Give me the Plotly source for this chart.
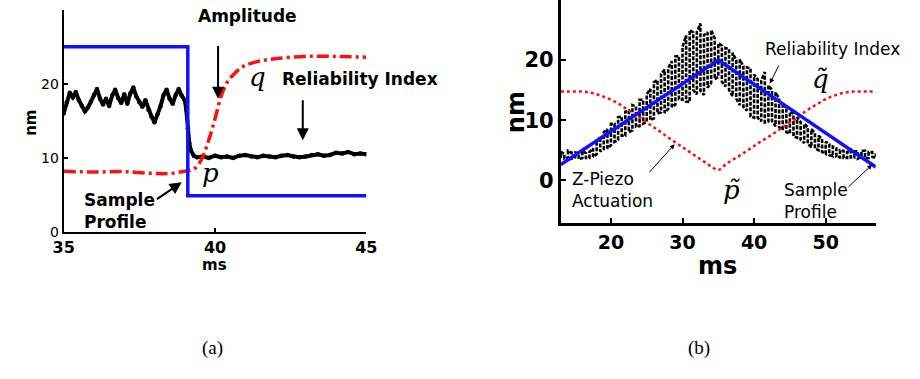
import plotly.graph_objects as go

# ---------------- Panel (a) data ----------------
a_profile_x = [35, 39.1, 39.1, 45]
a_profile_y = [25, 25, 4.9, 4.9]

a_amp_x = [35, 36, 37, 38, 38.5, 39.0, 39.3, 39.5, 39.6, 39.8, 40.0, 40.2, 40.4, 40.6,
           40.8, 41.0, 41.4, 42.0, 43.0, 44.0, 45.0]
a_amp_y = [8.2, 8.1, 8.15, 7.9, 7.9, 8.2, 8.5, 9.4, 10.2, 12.5, 15.3, 18.3, 20.2, 21.2,
           22.0, 22.5, 23.0, 23.4, 23.7, 23.7, 23.6]

a_ri_x = [35.0, 35.1, 35.2, 35.3, 35.4, 35.5, 35.6, 35.7, 35.8, 35.9,
          36.0, 36.1, 36.2, 36.3, 36.4, 36.5, 36.6, 36.7, 36.8, 36.9,
          37.0, 37.1, 37.2, 37.3, 37.4, 37.5, 37.6, 37.7, 37.8, 37.9,
          38.0, 38.1, 38.2, 38.3, 38.4, 38.5, 38.6, 38.7, 38.8, 38.9,
          39.0, 39.05, 39.1, 39.15, 39.2, 39.3,
          39.4, 39.6, 39.8, 40.0, 40.2, 40.4, 40.6, 40.8, 41.0, 41.2,
          41.4, 41.6, 41.8, 42.0, 42.2, 42.4, 42.6, 42.8, 43.0, 43.2,
          43.4, 43.6, 43.8, 44.0, 44.2, 44.4, 44.6, 44.8, 45.0]
a_ri_y = [16.0, 17.5, 18.8, 18.2, 18.9, 17.8, 17.0, 16.3, 16.8, 17.6,
          18.5, 19.3, 18.0, 17.2, 18.0, 17.0, 18.4, 19.2, 18.1, 17.4,
          18.6, 17.3, 18.7, 19.5, 18.3, 17.5, 16.9, 17.8, 16.5, 15.6,
          14.8, 15.9, 17.0, 18.5, 19.2, 18.0, 17.3, 18.5, 19.3, 18.4,
          17.8, 16.5, 14.0, 12.0, 11.0, 10.3,
          10.1, 10.2, 10.0, 10.3, 10.1, 10.2, 10.0, 10.3, 10.4, 10.2,
          10.1, 10.3, 10.2, 10.1, 10.3, 10.4, 10.2, 10.1, 10.2, 10.4,
          10.5, 10.3, 10.4, 10.7, 10.6, 10.8, 10.5, 10.6, 10.5]

a_xticks = [35, 40, 45]
a_yticks = [0, 10, 20]

# ---------------- Panel (b) data ----------------
b_profile_x = [13, 35, 57]
b_profile_y = [2.6, 20, 2.2]

b_piezo_x = [13, 14, 15, 16, 17, 18, 19, 20, 21, 22, 23, 24, 25, 26, 27, 28, 29, 30,
             31, 32, 33, 34, 35, 36, 37, 38, 39, 40, 41, 42, 43, 44, 45, 46, 47, 48,
             49, 50, 51, 52, 53, 54, 55, 56, 57]
b_piezo_y = [14.75, 14.75, 14.75, 14.75, 14.6, 14.3, 13.9, 13.4, 12.8, 12.0, 11.2, 10.4,
             9.6, 8.8, 8.0, 7.1, 6.3, 5.5, 4.7, 3.9, 3.1, 2.3, 1.7, 2.6, 3.4, 4.1, 4.9,
             5.7, 6.5, 7.2, 8.0, 8.8, 9.6, 10.4, 11.3, 12.1, 12.8, 13.5, 14.0, 14.4,
             14.65, 14.75, 14.75, 14.75, 14.75]

b_ri_x = [13.0, 13.5, 14.0, 14.5, 15.0, 15.5, 16.0, 16.5, 17.0, 17.5,
          18.0, 18.5, 19.0, 19.5, 20.0, 20.5, 21.0, 21.5, 22.0, 22.5,
          23.0, 23.5, 24.0, 24.5, 25.0, 25.5, 26.0, 26.5, 27.0, 27.5,
          28.0, 28.5, 29.0, 29.5, 30.0, 30.5, 31.0, 31.5, 32.0, 32.5,
          33.0, 33.5, 34.0, 34.5, 35.0, 35.5, 36.0, 36.5, 37.0, 37.5,
          38.0, 38.5, 39.0, 39.5, 40.0, 40.5, 41.0, 41.5, 42.0, 42.5,
          43.0, 43.5, 44.0, 44.5, 45.0, 45.5, 46.0, 46.5, 47.0, 47.5,
          48.0, 48.5, 49.0, 49.5, 50.0, 50.5, 51.0, 51.5, 52.0, 52.5,
          53.0, 53.5, 54.0, 54.5, 55.0, 55.5, 56.0, 56.5, 57.0]
b_ri_center = [4.2, 4.0, 4.3, 4.1, 4.2, 4.0, 4.3, 4.1, 4.2, 4.6,
               5.3, 6.0, 6.6, 6.9, 7.6, 7.9, 8.6, 9.0, 9.4, 9.8,
               10.4, 10.6, 11.2, 11.4, 12.0, 12.6, 13.3, 13.9, 14.5, 14.8,
               15.3, 16.0, 16.6, 17.1, 17.8, 18.6, 19.0, 19.8, 19.5, 20.5,
               19.2, 20.0, 20.6, 20.2, 20.0, 19.4, 18.8, 18.4, 17.6, 16.8,
               16.3, 15.6, 15.2, 14.6, 14.0, 13.6, 13.2, 13.8, 12.8, 12.4,
               11.8, 11.2, 10.6, 10.0, 9.6, 9.2, 8.8, 8.2, 7.8, 7.4,
               7.0, 6.6, 6.2, 5.8, 5.4, 5.1, 4.8, 4.6, 4.4, 4.3,
               4.2, 4.4, 4.3, 4.2, 4.4, 4.3, 4.2, 4.3, 4.2]
b_ri_spread = [0.5, 0.4, 0.6, 0.5, 0.4, 0.5, 0.6, 0.4, 0.5, 0.7,
               1.0, 1.2, 1.4, 1.6, 1.8, 1.5, 1.9, 1.6, 2.0, 1.8,
               2.1, 1.7, 2.2, 2.0, 2.3, 2.6, 3.0, 2.8, 3.2, 3.6,
               3.4, 3.8, 4.0, 3.6, 4.4, 5.5, 6.0, 4.8, 5.2, 5.6,
               5.0, 4.6, 4.4, 3.4, 2.8, 3.0, 3.2, 3.4, 3.6, 3.2,
               3.8, 3.4, 3.6, 4.0, 3.6, 3.2, 3.4, 4.2, 3.0, 2.6,
               2.8, 2.4, 2.2, 2.0, 1.8, 1.9, 1.7, 1.5, 1.6, 1.4,
               1.5, 1.3, 1.2, 1.1, 1.0, 0.9, 0.8, 0.7, 0.6, 0.6,
               0.5, 0.6, 0.5, 0.6, 0.5, 0.6, 0.5, 0.4, 0.5]

b_xticks = [20, 30, 40, 50]
b_yticks = [0, 10, 20]

BLUE = "#1010ff"
RED = "#ff1010"

fig = go.Figure()

# ---- panel (a) traces ----
fig.add_trace(go.Scatter(x=a_ri_x, y=a_ri_y, mode="lines+markers",
                         line=dict(color="black", width=4),
                         marker=dict(color="black", size=4.5),
                         xaxis="x", yaxis="y", showlegend=False))
fig.add_trace(go.Scatter(x=a_amp_x, y=a_amp_y, mode="lines",
                         line=dict(color=RED, width=3.5, dash="12px,4px,3px,4px", shape="spline"),
                         xaxis="x", yaxis="y", showlegend=False))
fig.add_trace(go.Scatter(x=a_profile_x, y=a_profile_y, mode="lines",
                         line=dict(color=BLUE, width=3.5),
                         xaxis="x", yaxis="y", showlegend=False))

# ---- panel (b) traces ----
# noisy reliability index: vertical dashed strokes spanning each sample's range
b_zig_x, b_zig_y = [], []
for i, (xv, cv, sv) in enumerate(zip(b_ri_x, b_ri_center, b_ri_spread)):
    if i % 2 == 0:
        b_zig_x += [xv, xv]
        b_zig_y += [cv - sv, cv + sv]
    else:
        b_zig_x += [xv, xv]
        b_zig_y += [cv + sv, cv - sv]

fig.add_trace(go.Scatter(x=b_zig_x, y=b_zig_y, mode="lines",
                         line=dict(color="black", width=2.6, dash="4px,1.5px"),
                         xaxis="x2", yaxis="y2", showlegend=False))
fig.add_trace(go.Scatter(x=b_piezo_x, y=b_piezo_y, mode="lines",
                         line=dict(color=RED, width=2.5, dash="dot", shape="spline"),
                         xaxis="x2", yaxis="y2", showlegend=False))
fig.add_trace(go.Scatter(x=b_profile_x, y=b_profile_y, mode="lines",
                         line=dict(color=BLUE, width=3.5),
                         xaxis="x2", yaxis="y2", showlegend=False))

common_ax = dict(showgrid=False, zeroline=False, showline=True, linecolor="black",
                 ticks="inside", tickcolor="black", mirror=False)

fig.update_layout(
    width=920, height=379,
    margin=dict(l=0, r=0, t=0, b=0),
    paper_bgcolor="white", plot_bgcolor="white",
    xaxis=dict(domain=[0.0587, 0.3957], range=[35, 45], tickvals=a_xticks,
               linewidth=2, ticklen=4, tickwidth=2, anchor="y",
               tickfont=dict(family="DejaVu Sans", size=16, color="black", weight="bold"),
               **common_ax),
    yaxis=dict(domain=[0.3747, 0.9736], range=[0, 30], tickvals=a_yticks,
               linewidth=2, ticklen=4, tickwidth=2, anchor="x", ticklabelstandoff=0,
               tickfont=dict(family="DejaVu Sans", size=14, color="black"),
               **common_ax),
    xaxis2=dict(domain=[0.6123, 0.963], range=[13, 57], tickvals=b_xticks,
                linewidth=3, ticklen=5, tickwidth=2, anchor="y2",
                tickfont=dict(family="DejaVu Sans", size=19, color="black", weight="bold"),
                **common_ax),
    yaxis2=dict(domain=[0.3976, 1.0], range=[-7.2, 30], tickvals=b_yticks,
                linewidth=3, ticklen=5, tickwidth=2, anchor="x2",
                tickfont=dict(family="DejaVu Sans", size=21, color="black", weight="bold"),
                **common_ax),
)

bold_a = dict(family="DejaVu Sans", size=17, color="black", weight="bold")
norm_b = dict(family="DejaVu Sans", size=17, color="black")
math_a = dict(family="DejaVu Serif", size=26, color="black", style="italic")


def paper_text(px, py, text, font, angle=0):
    return dict(x=px / 920, y=1 - py / 379, xref="paper", yref="paper", text=text,
                textangle=angle, xanchor="center", yanchor="middle",
                showarrow=False, font=font)


ann = [
    # panel (a)
    dict(x=41.06, y=29.1, xref="x", yref="y", text="Amplitude", showarrow=False, font=bold_a),
    dict(x=40.1, y=18.0, ax=40.1, ay=25.3, xref="x", yref="y", axref="x", ayref="y",
         text="", showarrow=True, arrowhead=2, arrowsize=1.2, arrowwidth=2, arrowcolor="black"),
    dict(x=41.4, y=20.9, xref="x", yref="y", text="q", showarrow=False, font=math_a),
    dict(x=44.8, y=20.7, xref="x", yref="y", text="Reliability Index", showarrow=False, font=bold_a),
    dict(x=42.9, y=12.4, ax=42.9, ay=18.0, xref="x", yref="y", axref="x", ayref="y",
         text="", showarrow=True, arrowhead=2, arrowsize=1.2, arrowwidth=2, arrowcolor="black"),
    dict(x=39.84, y=8.0, xref="x", yref="y", text="p", showarrow=False, font=math_a),
    dict(x=35.6, y=2.8, xref="x", yref="y", text="Sample<br>Profile", showarrow=False,
         xanchor="left", align="left", font=bold_a),
    dict(x=38.9, y=6.7, ax=38.03, ay=4.3, xref="x", yref="y", axref="x", ayref="y",
         text="", showarrow=True, arrowhead=2, arrowsize=1.2, arrowwidth=2, arrowcolor="black"),
    paper_text(21, 125, "nm", dict(family="DejaVu Sans", size=15, color="black", weight="bold"), -90),
    paper_text(208, 271, "ms", dict(family="DejaVu Sans", size=15, color="black", weight="bold")),
    # panel (b)
    dict(x=41.27, y=21.8, xref="x2", yref="y2", text="Reliability Index", showarrow=False,
         xanchor="left", font=norm_b),
    dict(x=42.2, y=16.1, ax=43.56, ay=19.35, xref="x2", yref="y2", axref="x2", ayref="y2",
         text="", showarrow=True, arrowhead=2, arrowsize=1, arrowwidth=1, arrowcolor="black"),
    dict(x=49.3, y=16.9, xref="x2", yref="y2", text="q̃", showarrow=False, font=math_a),
    dict(x=14.25, y=-1.6, xref="x2", yref="y2", text="Z-Piezo<br>Actuation", showarrow=False,
         xanchor="left", align="left", font=norm_b),
    dict(x=28.9, y=6.0, ax=25.2, ay=1.1, xref="x2", yref="y2", axref="x2", ayref="y2",
         text="", showarrow=True, arrowhead=2, arrowsize=1, arrowwidth=1, arrowcolor="black"),
    dict(x=36.8, y=-1.6, xref="x2", yref="y2", text="p̃", showarrow=False, font=math_a),
    dict(x=43.85, y=-3.4, xref="x2", yref="y2", text="Sample<br>Profile", showarrow=False,
         xanchor="left", align="left", font=norm_b),
    dict(x=56.5, y=2.6, ax=53.0, ay=-1.3, xref="x2", yref="y2", axref="x2", ayref="y2",
         text="", showarrow=True, arrowhead=2, arrowsize=1, arrowwidth=1, arrowcolor="black"),
    paper_text(517, 115, "nm", dict(family="DejaVu Sans", size=24, color="black", weight="bold"), -90),
    paper_text(724, 272, "ms", dict(family="DejaVu Sans", size=24, color="black", weight="bold")),
    # captions
    paper_text(206, 355, "(a)", dict(family="Liberation Serif", size=19, color="black")),
    paper_text(705, 355, "(b)", dict(family="Liberation Serif", size=19, color="black")),
]
fig.update_layout(annotations=ann)

fig.write_html("out.html")
